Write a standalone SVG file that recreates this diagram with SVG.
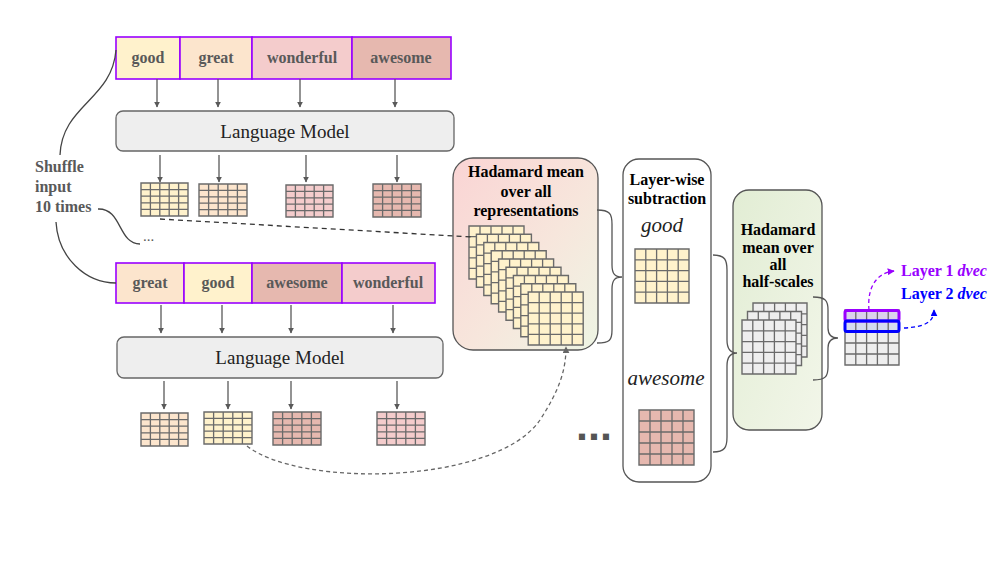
<svg xmlns="http://www.w3.org/2000/svg" xmlns:xlink="http://www.w3.org/1999/xlink" width="1000" height="563" viewBox="0 0 1000 563">
<style>
.word{fill:#595959;font-family:"Liberation Serif","DejaVu Serif",serif;font-weight:bold;font-size:16px;text-anchor:middle}
.wbox{stroke:#9900FF;stroke-width:1.6}
.lm{fill:#EEEEEE;stroke:#666666;stroke-width:1.3}
.lmt{fill:#222;font-family:"Liberation Serif","DejaVu Serif",serif;font-size:19px;text-anchor:middle}
.title{fill:#000;font-family:"Liberation Serif","DejaVu Serif",serif;font-weight:bold;font-size:16px;text-anchor:middle}
.it{fill:#222;font-family:"Liberation Serif","DejaVu Serif",serif;font-style:italic;font-size:21px;text-anchor:middle}
.arr{stroke:#595959;stroke-width:1.3;fill:none;marker-end:url(#ah)}
.brace{stroke:#555;stroke-width:1.3;fill:none}
.curve{stroke:#444;stroke-width:1.3;fill:none}
.dash{stroke:#333;stroke-width:1.3;fill:none;stroke-dasharray:5 4}
.panel{stroke:#555;stroke-width:1.3}
.lbl{font-family:"Liberation Serif","DejaVu Serif",serif;font-weight:bold;font-size:16px}
</style>
<defs>
<marker id="ah" viewBox="0 0 10 10" refX="9" refY="5" markerWidth="6" markerHeight="6" orient="auto" markerUnits="userSpaceOnUse">
<path d="M0,0 L10,5 L0,10 z" fill="#595959"/>
</marker>
<marker id="ahg" viewBox="0 0 10 10" refX="9" refY="5" markerWidth="7" markerHeight="7" orient="auto" markerUnits="userSpaceOnUse">
<path d="M0,0 L10,5 L0,10 z" fill="#666"/>
</marker>
<marker id="ahp" viewBox="0 0 10 10" refX="9" refY="5" markerWidth="7" markerHeight="7" orient="auto" markerUnits="userSpaceOnUse">
<path d="M0,0 L10,5 L0,10 z" fill="#9900FF"/>
</marker>
<marker id="ahb" viewBox="0 0 10 10" refX="9" refY="5" markerWidth="7" markerHeight="7" orient="auto" markerUnits="userSpaceOnUse">
<path d="M0,0 L10,5 L0,10 z" fill="#0000FF"/>
</marker>
<linearGradient id="pinkg" x1="0" y1="0" x2="1" y2="1">
<stop offset="0" stop-color="#FAD4D4"/>
<stop offset="0.55" stop-color="#F7E6DC"/>
<stop offset="1" stop-color="#EEF5E4"/>
</linearGradient>
<linearGradient id="greeng" x1="0" y1="0" x2="1" y2="1">
<stop offset="0" stop-color="#E2EDD4"/>
<stop offset="1" stop-color="#F2F6E9"/>
</linearGradient>
<symbol id="grid" viewBox="0 0 50 50" preserveAspectRatio="none" overflow="visible">
<rect x="0" y="0" width="50" height="50" stroke="#6a6a6a" stroke-width="1.4" vector-effect="non-scaling-stroke"/>
<path d="M10 0V50M20 0V50M30 0V50M40 0V50M0 10H50M0 20H50M0 30H50M0 40H50" stroke="#6a6a6a" stroke-width="1.3" vector-effect="non-scaling-stroke" fill="none"/>
</symbol>
</defs>

<g id="row1-words">
<rect class="wbox" x="116" y="37" width="64" height="42" fill="#FFF2CC"/>
<rect class="wbox" x="180" y="37" width="72" height="42" fill="#FCE5CD"/>
<rect class="wbox" x="252" y="37" width="100" height="42" fill="#F4CCCC"/>
<rect class="wbox" x="352" y="37" width="99" height="42" fill="#E6B8AF"/>
<text class="word" x="148" y="63">good</text>
<text class="word" x="216" y="63">great</text>
<text class="word" x="302" y="63">wonderful</text>
<text class="word" x="401" y="63">awesome</text>
</g>

<g id="lm1">
<rect class="lm" x="116" y="111" width="338" height="40" rx="7"/>
<text class="lmt" x="285" y="138">Language Model</text>
</g>

<g id="row1-grids">
<use xlink:href="#grid" x="141" y="183" width="47" height="33" fill="#FFF2CC"/>
<use xlink:href="#grid" x="199" y="184" width="48" height="32" fill="#FCE5CD"/>
<use xlink:href="#grid" x="286" y="185" width="47" height="32" fill="#F4CCCC"/>
<use xlink:href="#grid" x="373" y="184" width="48" height="33" fill="#E6B8AF"/>
</g>

<g id="shuffle-label">
<text class="word" style="text-anchor:start" x="35" y="172">Shuffle</text>
<text class="word" style="text-anchor:start" x="35" y="192">input</text>
<text class="word" style="text-anchor:start" x="35" y="212">10 times</text>
<text class="word" style="text-anchor:start;font-weight:normal;font-size:15px" x="143" y="241">...</text>
</g>

<g id="row2-words">
<rect class="wbox" x="116" y="263" width="68" height="40" fill="#FCE5CD"/>
<rect class="wbox" x="184" y="263" width="68" height="40" fill="#FFF2CC"/>
<rect class="wbox" x="252" y="263" width="90" height="40" fill="#E6B8AF"/>
<rect class="wbox" x="342" y="263" width="93" height="40" fill="#F4CCCC"/>
<text class="word" x="150" y="288">great</text>
<text class="word" x="218" y="288">good</text>
<text class="word" x="297" y="288">awesome</text>
<text class="word" x="388" y="288">wonderful</text>
</g>

<g id="lm2">
<rect class="lm" x="117" y="337" width="326" height="41" rx="7"/>
<text class="lmt" x="280" y="364">Language Model</text>
</g>

<g id="row2-grids">
<use xlink:href="#grid" x="141" y="413" width="47" height="33" fill="#FCE5CD"/>
<use xlink:href="#grid" x="204" y="412" width="48" height="32" fill="#FFF2CC"/>
<use xlink:href="#grid" x="273" y="412" width="48" height="33" fill="#E6B8AF"/>
<use xlink:href="#grid" x="377" y="412" width="48" height="33" fill="#F4CCCC"/>
</g>

<g id="hadamard-all">
<rect class="panel" x="453" y="158" width="145" height="192" rx="20" fill="url(#pinkg)"/>
<text class="title" x="526" y="177">Hadamard mean</text>
<text class="title" x="526" y="197">over all</text>
<text class="title" x="526" y="216">representations</text>
<use xlink:href="#grid" x="469" y="226" width="55" height="53" fill="#FFF2CC"/>
<use xlink:href="#grid" x="476.4" y="234.25" width="55" height="53" fill="#FFF2CC"/>
<use xlink:href="#grid" x="483.8" y="242.5" width="55" height="53" fill="#FFF2CC"/>
<use xlink:href="#grid" x="491.2" y="250.75" width="55" height="53" fill="#FFF2CC"/>
<use xlink:href="#grid" x="498.6" y="259" width="55" height="53" fill="#FFF2CC"/>
<use xlink:href="#grid" x="506" y="267.25" width="55" height="53" fill="#FFF2CC"/>
<use xlink:href="#grid" x="513.4" y="275.5" width="55" height="53" fill="#FFF2CC"/>
<use xlink:href="#grid" x="520.8" y="283.75" width="55" height="53" fill="#FFF2CC"/>
<use xlink:href="#grid" x="528.2" y="292" width="55" height="53" fill="#FFF2CC"/>
</g>

<g id="layer-wise">
<rect class="panel" x="623" y="159" width="88" height="323" rx="16" fill="#FFFFFF"/>
<text class="title" x="667" y="185">Layer-wise</text>
<text class="title" x="667" y="204">subtraction</text>
<text class="it" x="662" y="232">good</text>
<use xlink:href="#grid" x="635" y="249" width="54" height="54" fill="#FFF2CC"/>
<text class="it" x="666" y="385">awesome</text>
<use xlink:href="#grid" x="639" y="410" width="55" height="55" fill="#E6B8AF"/>
</g>

<g id="ellipsis">
<text x="576" y="440" style="font-family:'Liberation Sans','DejaVu Sans',sans-serif;font-weight:bold;font-size:43px;fill:#555">...</text>
</g>

<g id="hadamard-half">
<rect class="panel" x="733" y="190" width="89" height="240" rx="16" fill="url(#greeng)"/>
<text class="title" x="778" y="235">Hadamard</text>
<text class="title" x="778" y="253">mean over</text>
<text class="title" x="778" y="270">all</text>
<text class="title" x="778" y="287">half-scales</text>
<use xlink:href="#grid" x="753" y="303" width="54" height="54" fill="#EEEEEE"/>
<use xlink:href="#grid" x="747.5" y="311.5" width="54" height="54" fill="#EEEEEE"/>
<use xlink:href="#grid" x="742" y="320" width="54" height="54" fill="#EEEEEE"/>
</g>

<g id="output">
<rect x="845" y="310" width="54" height="55" fill="#EEEEEE"/>
<rect x="845" y="310" width="54" height="11" fill="#DCD2EC"/>
<rect x="845" y="321" width="54" height="11" fill="#D4DCF0"/>
<use xlink:href="#grid" x="845" y="310" width="54" height="55" fill="none"/>
<rect x="845" y="310.5" width="54" height="10.5" rx="2" fill="none" stroke="#9900FF" stroke-width="3"/>
<rect x="845" y="321" width="54" height="10.5" rx="2" fill="none" stroke="#0000FF" stroke-width="3"/>
<text class="lbl" x="901" y="276" fill="#9900FF">Layer 1 <tspan font-style="italic">dvec</tspan></text>
<text class="lbl" x="901" y="299" fill="#0000FF">Layer 2 <tspan font-style="italic">dvec</tspan></text>
</g>

<g id="connectors">
<path class="arr" d="M157,79 V107"/>
<path class="arr" d="M218,79 V107"/>
<path class="arr" d="M300,79 V107"/>
<path class="arr" d="M395,79 V107"/>
<path class="arr" d="M160,155 V182"/>
<path class="arr" d="M219,155 V182"/>
<path class="arr" d="M306,155 V182"/>
<path class="arr" d="M397,155 V182"/>
<path class="arr" d="M161,305 V333"/>
<path class="arr" d="M222,305 V333"/>
<path class="arr" d="M291,305 V333"/>
<path class="arr" d="M393,305 V333"/>
<path class="arr" d="M164,381 V409"/>
<path class="arr" d="M228,381 V409"/>
<path class="arr" d="M291,381 V409"/>
<path class="arr" d="M397,381 V409"/>
<path class="curve" d="M116,50 C112,100 62,105 60,155"/>
<path class="curve" d="M98,209 C122,208 118,244 140,244"/>
<path class="curve" d="M56,222 C58,258 86,283 116,283"/>
<path class="dash" d="M160,219 L472,237"/>
<path d="M247,446 C300,488 495,485 540,420 C558,392 566,372 566,347" fill="none" stroke="#666" stroke-width="1.3" stroke-dasharray="4 3" marker-end="url(#ahg)"/>
<path class="brace" d="M597,210 C610,210 612,214 612,224 L612,265 C612,274 615,277 622,277 C615,277 612,280 612,289 L612,330 C612,340 610,343 597,343"/>
<path class="brace" d="M713,255 C725,255 727,260 727,270 L727,340 C727,349 730,353 737,353 C730,353 727,357 727,366 L727,437 C727,447 725,452 713,452"/>
<path class="brace" d="M813,297 C826,297 828,301 828,310 L828,328 C828,335 831,338 838,338 C831,338 828,341 828,348 L828,367 C828,376 826,380 813,380"/>
<path d="M869,310 C867,288 876,273 894,271" fill="none" stroke="#9900FF" stroke-width="1.3" stroke-dasharray="4 3" marker-end="url(#ahp)"/>
<path d="M904,328 C925,327 934,322 934,310" fill="none" stroke="#0000FF" stroke-width="1.3" stroke-dasharray="4 3" marker-end="url(#ahb)"/>
</g>
</svg>
